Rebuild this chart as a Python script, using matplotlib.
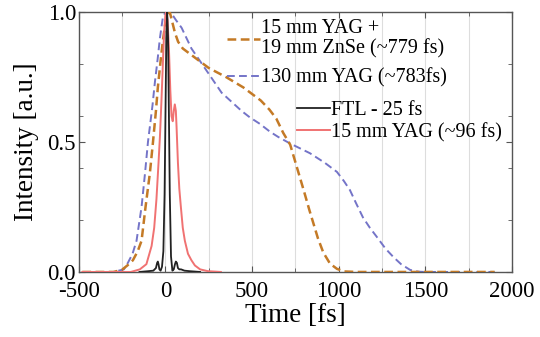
import matplotlib
matplotlib.use("Agg")
import matplotlib.pyplot as plt
from matplotlib.ticker import MultipleLocator, FixedLocator

plt.rcParams['font.family'] = ['Liberation Serif', 'DejaVu Serif']
plt.rcParams['axes.unicode_minus'] = False

# 15 mm YAG + 19 mm ZnSe
t_zns = [-480, -300, -252, -220, -188, -160, -138, -115, -90, -72, -55, -44, -30, -15, 0, 10, 25,
         40, 55, 73, 100, 150, 250, 350, 450, 500, 550, 600, 640, 680, 720, 760, 800, 830, 855,
         880, 911, 950, 990, 1030, 1100, 1900]
i_zns = [0, 0, 0.008, 0.025, 0.045, 0.08, 0.12, 0.25, 0.38, 0.50, 0.62, 0.71, 0.80, 0.89, 0.96, 0.99, 1.0,
         0.96, 0.92, 0.886, 0.86, 0.835, 0.785, 0.75, 0.71, 0.685, 0.66, 0.625, 0.59, 0.535, 0.49, 0.40, 0.31, 0.24, 0.185,
         0.13, 0.075, 0.032, 0.012, 0.002, 0, 0]

# 130 mm YAG
t_yag130 = [-480, -300, -240, -217, -190, -167, -138, -118, -101, -75, -61, -45, -32, -15, 0, 20, 35, 60,
            93, 150, 227, 324, 439, 487, 545, 603, 650, 718, 834, 920, 990, 1030, 1065, 1100, 1140, 1180,
            1220, 1270, 1315, 1360, 1412, 1460, 1500, 1900]
i_yag130 = [0, 0, 0.01, 0.035, 0.07, 0.12, 0.25, 0.38, 0.50, 0.64, 0.73, 0.82, 0.90, 0.98, 1.0, 1.0, 0.995, 0.97,
            0.94, 0.86, 0.785, 0.69, 0.62, 0.595, 0.57, 0.54, 0.52, 0.495, 0.457, 0.42, 0.385, 0.35, 0.315, 0.265, 0.21, 0.17,
            0.135, 0.09, 0.058, 0.03, 0.008, 0.001, 0, 0]

# FTL - 25 fs
t_ftl = [-150, -100, -70, -55, -48, -44, -40, -35, -28, -20, -12, -5, 0, 5, 10, 15, 20, 25, 32, 40, 48,
         55, 60, 66, 72, 80, 90, 110, 140, 200]
i_ftl = [0, 0.003, 0.005, 0.015, 0.035, 0.04, 0.03, 0.01, 0.005, 0.02, 0.08, 0.3, 0.6, 0.9, 1.0, 0.9, 0.6, 0.3, 0.06, 0.005, 0.01,
         0.03, 0.04, 0.035, 0.015, 0.01, 0.01, 0.005, 0.003, 0]

# 15 mm YAG
t_yag15 = [-480, -200, -148, -110, -80, -65, -52, -40, -32, -23, -15, -8, 0, 5, 12, 20, 28, 35, 42, 48, 54,
           60, 64, 72, 80, 89, 100, 112, 130, 150, 170, 200, 245, 320]
i_yag15 = [0, 0, 0.01, 0.03, 0.10, 0.17, 0.28, 0.42, 0.52, 0.66, 0.80, 0.92, 0.99, 1.0, 0.97, 0.86, 0.70, 0.60, 0.58, 0.62, 0.645,
           0.62, 0.56, 0.42, 0.32, 0.25, 0.17, 0.12, 0.07, 0.045, 0.025, 0.01, 0.003, 0]

labels = ["15 mm YAG +\n19 mm ZnSe (~779 fs)", "130 mm YAG (~783fs)", "FTL - 25 fs", "15 mm YAG (~96 fs)"]

fig = plt.figure(figsize=(5.4, 3.37), dpi=100)
ax = fig.add_axes([0.146, 0.193, 0.802, 0.771])

l1, = ax.plot(t_zns, i_zns, color='#c47a26', lw=1.8, dashes=(3.5, 1.8), label=labels[0], zorder=3)
l2, = ax.plot(t_yag130, i_yag130, color='#7474c8', lw=1.4, dashes=(4, 2.2), label=labels[1], zorder=2)
l3, = ax.plot(t_ftl, i_ftl, color='#222222', lw=1.3, label=labels[2], zorder=5)
l4, = ax.plot(t_yag15, i_yag15, color='#f07272', lw=1.4, label=labels[3], zorder=4)

ax.set_xlim(-500, 2000)
ax.set_ylim(0, 1.0)
ax.xaxis.set_major_locator(MultipleLocator(500))
ax.xaxis.set_minor_locator(MultipleLocator(250))
ax.yaxis.set_major_locator(FixedLocator([0, 0.5, 1.0]))
ax.yaxis.set_minor_locator(FixedLocator([0.2, 0.4, 0.6, 0.8]))
ax.set_yticklabels(['0.0', '0.5', '1.0'])
ax.grid(True, which='both', axis='x', color='#dddddd', lw=0.8)
ax.set_axisbelow(True)
ax.tick_params(which='both', direction='in', top=True, right=True, labelsize=16.5,
               color='#555555')
ax.tick_params(axis='x', which='both', pad=6.5)
ax.tick_params(axis='y', which='both', pad=2)
ax.tick_params(which='major', length=4)
ax.tick_params(which='minor', length=3)
for s in ax.spines.values():
    s.set_color('#555555')
    s.set_linewidth(1.0)

ax.set_xlabel('Time [fs]', fontsize=19.5, labelpad=1)
ax.set_ylabel('Intensity [a.u.]', fontsize=19.5, labelpad=6)

leg1 = ax.legend(handles=[l1, l2], loc='upper left', bbox_to_anchor=(0.342, 0.975), frameon=False,
                 fontsize=14.5, handlelength=1.65, handletextpad=0.05, borderpad=0, borderaxespad=0,
                 labelspacing=0.5)
for t in leg1.get_texts():
    t.set_linespacing(1.1)
ax.add_artist(leg1)
leg2 = ax.legend(handles=[l3, l4], loc='upper left', bbox_to_anchor=(0.503, 0.66), frameon=False,
                 fontsize=14.5, handlelength=1.65, handletextpad=0.05, borderpad=0, borderaxespad=0,
                 labelspacing=0.15)

fig.savefig('out.png', dpi=100)
